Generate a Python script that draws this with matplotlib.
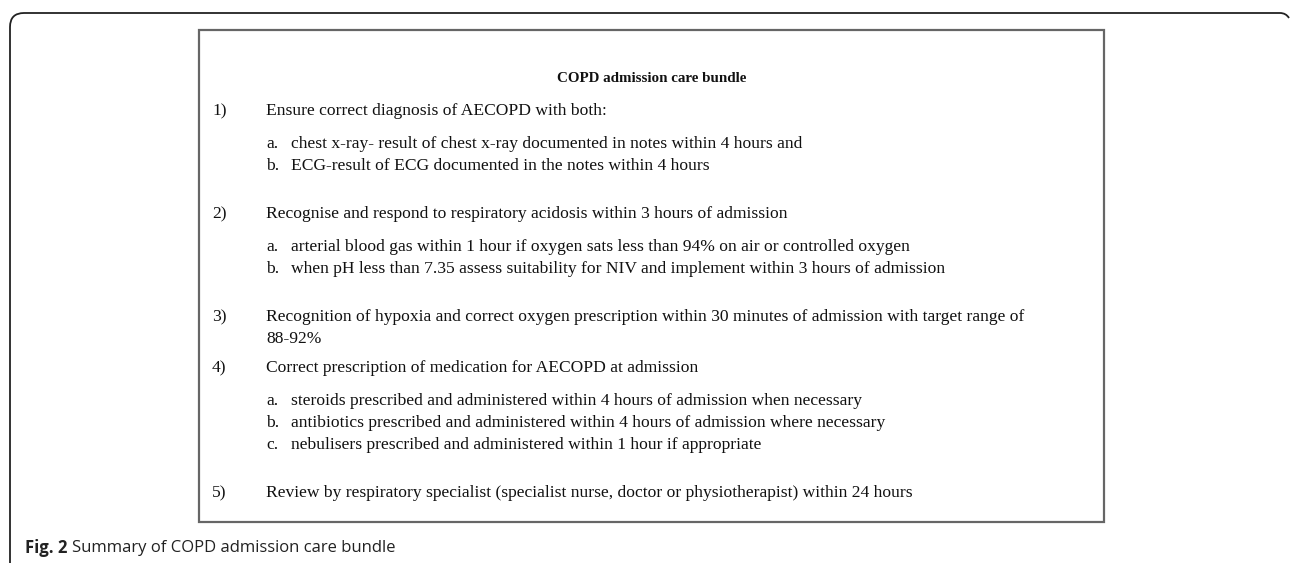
#!/usr/bin/env python3
import matplotlib

matplotlib.use("Agg")
import matplotlib.pyplot as plt
from matplotlib.patches import PathPatch, Rectangle
from matplotlib.path import Path

title = "COPD admission care bundle"

# (kind, label, text) - kind "main" for numbered items, "sub" for lettered ones,
# "cont" for a wrapped continuation line of a numbered item
items = [
    ("main", "1)", "Ensure correct diagnosis of AECOPD with both:"),
    ("sub", "a.", "chest x-ray- result of chest x-ray documented in notes within 4 hours and"),
    ("sub", "b.", "ECG-result of ECG documented in the notes within 4 hours"),
    ("main", "2)", "Recognise and respond to respiratory acidosis within 3 hours of admission"),
    ("sub", "a.", "arterial blood gas within 1 hour if oxygen sats less than 94% on air or controlled oxygen"),
    ("sub", "b.", "when pH less than 7.35 assess suitability for NIV and implement within 3 hours of admission"),
    ("main", "3)", "Recognition of hypoxia and correct oxygen prescription within 30 minutes of admission with target range of"),
    ("cont", "", "88-92%"),
    ("main", "4)", "Correct prescription of medication for AECOPD at admission"),
    ("sub", "a.", "steroids prescribed and administered within 4 hours of admission when necessary"),
    ("sub", "b.", "antibiotics prescribed and administered within 4 hours of admission where necessary"),
    ("sub", "c.", "nebulisers prescribed and administered within 1 hour if appropriate"),
    ("main", "5)", "Review by respiratory specialist (specialist nurse, doctor or physiotherapist) within 24 hours"),
]

caption_bold = "Fig. 2"
caption_text = "Summary of COPD admission care bundle"

W, H = 1290, 563
fig = plt.figure(figsize=(W / 100, H / 100), dpi=100)
ax = fig.add_axes([0, 0, 1, 1])
ax.set_xlim(0, W)
ax.set_ylim(H, 0)
ax.axis("off")

# outer frame: rounded top-left corner, open at the bottom and right
verts = [(10, H + 5), (10, 27), (10, 13), (24, 13), (1280, 13), (1286, 13), (1289, 18)]
codes = [Path.MOVETO, Path.LINETO, Path.CURVE3, Path.CURVE3, Path.LINETO, Path.CURVE3, Path.CURVE3]
ax.add_patch(PathPatch(Path(verts, codes), fill=False, lw=1.3, ec="#222222"))

# inner box
ax.add_patch(Rectangle((199, 30), 905, 492, fill=False, lw=1.6, ec="#666666"))

serif = "Liberation Serif"
fs = 12.6
ink = "#111111"
ax.text(651.5, 78, title, family=serif, weight="bold", fontsize=10.8,
        ha="center", va="center", color=ink)

# vertical gap before a line, depending on what came before it
gaps = {
    ("main", "sub"): 48,
    ("main", "cont"): 29,
    ("sub", "main"): 33,
    ("sub", "sub"): 22,
    ("cont", "main"): 22,
}

y = 111
prev = None
for kind, label, text in items:
    if prev is not None:
        y += gaps[(kind, prev)]
    if kind == "main":
        ax.text(212, y, label, family=serif, fontsize=fs, va="center", color=ink)
        ax.text(266, y, text, family=serif, fontsize=fs, va="center", color=ink)
    elif kind == "cont":
        ax.text(266, y, text, family=serif, fontsize=fs, va="center", color=ink)
    else:
        ax.text(266, y, label, family=serif, fontsize=fs, va="center", color=ink)
        ax.text(291, y, text, family=serif, fontsize=fs, va="center", color=ink)
    prev = kind

cap = ax.text(25, 548, caption_bold + " ", family="Open Sans", weight="bold",
              fontsize=12, va="center", color="#222222")
fig.canvas.draw()
bb = cap.get_window_extent()
x_end = ax.transData.inverted().transform((bb.x1, bb.y0))[0]
ax.text(x_end, 548, caption_text, family="Open Sans", fontsize=12,
        va="center", color="#222222")

fig.savefig("out.png", dpi=100)
